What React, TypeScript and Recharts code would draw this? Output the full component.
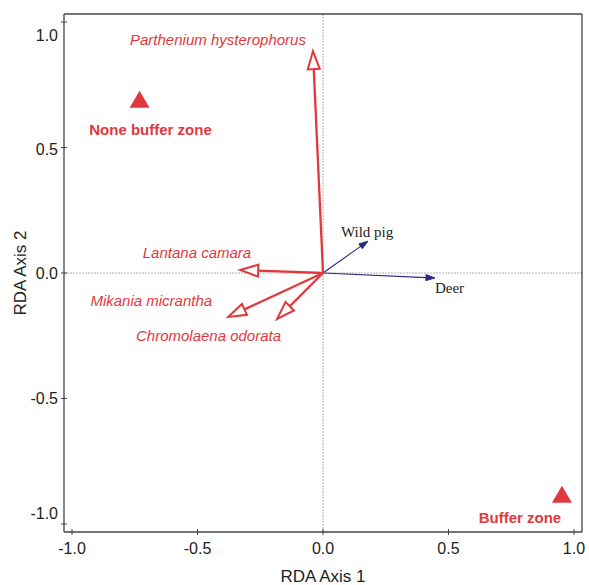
import { ReferenceLine, Scatter, ScatterChart, XAxis, YAxis } from "recharts";

const AXIS_MIN = -1.032;
const AXIS_MAX = 1.032;
const axisTicks = [-1, -0.5, 0, 0.5, 1];

// species vectors (red, open heads)
const speciesNames = [
  "Parthenium hysterophorus",
  "Lantana camara",
  "Mikania micrantha",
  "Chromolaena odorata",
];
const speciesAxis1 = [-0.04, -0.33, -0.378, -0.183];
const speciesAxis2 = [0.884, 0.012, -0.175, -0.183];

// animal vectors (blue, filled heads)
const animalNames = ["Wild pig", "Deer"];
const animalAxis1 = [0.179, 0.446];
const animalAxis2 = [0.127, -0.02];

// sites (triangles)
const siteNames = ["None buffer zone", "Buffer zone"];
const siteAxis1 = [-0.731, 0.952];
const siteAxis2 = [0.69, -0.884];

const RED = "#e0393d";
const BLUE = "#2a2a82";
const AXIS = "#444";
const SANS = "'Liberation Sans', Arial, sans-serif";
const SERIF = "'Liberation Serif', 'Times New Roman', serif";

// label placement relative to the arrow tip / marker, in pixels
const labelPlace: Record<string, { dx: number; dy: number; anchor: "start" | "middle" | "end" }> = {
  "Parthenium hysterophorus": { dx: -7, dy: -6, anchor: "end" },
  "Lantana camara": { dx: 11, dy: -12, anchor: "end" },
  "Mikania micrantha": { dx: -16, dy: -11, anchor: "end" },
  "Chromolaena odorata": { dx: 4, dy: 22, anchor: "end" },
  "Wild pig": { dx: -27, dy: -4, anchor: "start" },
  Deer: { dx: 0, dy: 15, anchor: "start" },
  "None buffer zone": { dx: 11, dy: 35, anchor: "middle" },
  "Buffer zone": { dx: -42, dy: 28, anchor: "middle" },
};

const siteData = siteNames.map((name, i) => ({ name, x: siteAxis1[i], y: siteAxis2[i] }));

function makeArrow(name: string, species: boolean) {
  return (props: any) => {
    const { x1, y1, x2, y2 } = props;
    const len = Math.hypot(x2 - x1, y2 - y1) || 1;
    const ux = (x2 - x1) / len;
    const uy = (y2 - y1) / len;
    const headL = species ? 18 : 9;
    const headW = species ? 12 : 6;
    const bx = x2 - ux * headL;
    const by = y2 - uy * headL;
    const nx = -uy * (headW / 2);
    const ny = ux * (headW / 2);
    const color = species ? RED : BLUE;
    const p = labelPlace[name];
    return (
      <g>
        <line x1={x1} y1={y1} x2={bx} y2={by} stroke={color} strokeWidth={species ? 2.3 : 1.1} />
        <polygon
          points={`${x2},${y2} ${bx + nx},${by + ny} ${bx - nx},${by - ny}`}
          fill={species ? "#fff" : BLUE}
          stroke={color}
          strokeWidth={species ? 2 : 1}
        />
        <text
          x={x2 + p.dx}
          y={y2 + p.dy}
          textAnchor={p.anchor}
          fill={species ? RED : "#222"}
          fontSize={15}
          fontStyle={species ? "italic" : "normal"}
          fontFamily={species ? SANS : SERIF}
        >
          {name}
        </text>
      </g>
    );
  };
}

function SiteMarker(props: any) {
  const { cx, cy, payload } = props;
  const p = labelPlace[payload.name];
  return (
    <g>
      <polygon points={`${cx},${cy - 9} ${cx - 10},${cy + 8} ${cx + 10},${cy + 8}`} fill={RED} />
      <text
        x={cx + p.dx}
        y={cy + p.dy}
        textAnchor={p.anchor}
        fill={RED}
        fontSize={15}
        fontWeight="bold"
        fontFamily={SANS}
      >
        {payload.name}
      </text>
    </g>
  );
}

const fmt = (v: number) => v.toFixed(1);

// x tick: short mark crossing the axis, label below
function XTick(props: any) {
  const { x, y, payload } = props;
  const axisY = y - 11;
  return (
    <g>
      <line x1={x} x2={x} y1={axisY - 3} y2={axisY + 3} stroke={AXIS} />
      <text x={x} y={y} dy="0.71em" textAnchor="middle" fill="#222" fontSize={16} fontFamily={SANS}>
        {fmt(payload.value)}
      </text>
    </g>
  );
}

// y tick: the end labels (±1.0) are pulled inward, as in the original
function YTick(props: any) {
  const { x, y, payload } = props;
  const axisX = x + 6;
  const v = payload.value;
  const shift = v >= 1 ? 13 : v <= -1 ? -10.5 : v > 0 ? 1.5 : 0;
  return (
    <g>
      <line x1={axisX - 3} x2={axisX + 3} y1={y} y2={y} stroke={AXIS} />
      <text
        x={x}
        y={y + shift}
        dy="0.355em"
        textAnchor="end"
        fill="#222"
        fontSize={16}
        fontFamily={SANS}
      >
        {fmt(v)}
      </text>
    </g>
  );
}

export default function App() {
  return (
    <div style={{ position: "absolute", left: 0, top: 0, background: "#fff" }}>
      <ScatterChart width={589} height={585} margin={{ top: 14, right: 7, bottom: 0, left: 0 }}>
        <XAxis
          type="number"
          dataKey="x"
          domain={[AXIS_MIN, AXIS_MAX]}
          ticks={axisTicks}
          interval={0}
          allowDataOverflow
          height={53}
          tickSize={3}
          tickMargin={8}
          axisLine={{ stroke: AXIS, strokeWidth: 1.3 }}
          tickLine={false}
          tick={<XTick />}
          label={{ value: "RDA Axis 1", position: "insideBottom", offset: 3, fill: "#222", fontSize: 17, fontFamily: SANS }}
        />
        <YAxis
          type="number"
          dataKey="y"
          domain={[AXIS_MIN, AXIS_MAX]}
          ticks={axisTicks}
          interval={0}
          allowDataOverflow
          width={64}
          tickSize={3}
          tickMargin={3}
          axisLine={{ stroke: AXIS, strokeWidth: 1.3 }}
          tickLine={false}
          tick={<YTick />}
          label={{
            value: "RDA Axis 2",
            angle: -90,
            position: "insideLeft",
            offset: 20,
            fill: "#222",
            fontSize: 17,
            fontFamily: SANS,
            style: { textAnchor: "middle" },
          }}
        />
        <ReferenceLine x={0} stroke="#999" strokeWidth={0.8} strokeDasharray="2 1" />
        <ReferenceLine y={0} stroke="#999" strokeWidth={0.8} strokeDasharray="2 1" />
        <ReferenceLine y={AXIS_MAX} stroke={AXIS} strokeWidth={1.3} ifOverflow="visible" />
        <ReferenceLine x={AXIS_MAX} stroke={AXIS} strokeWidth={1.3} ifOverflow="visible" />
        {animalNames.map((name, i) => (
          <ReferenceLine
            key={name}
            segment={[
              { x: 0, y: 0 },
              { x: animalAxis1[i], y: animalAxis2[i] },
            ]}
            shape={makeArrow(name, false)}
          />
        ))}
        {speciesNames.map((name, i) => (
          <ReferenceLine
            key={name}
            segment={[
              { x: 0, y: 0 },
              { x: speciesAxis1[i], y: speciesAxis2[i] },
            ]}
            shape={makeArrow(name, true)}
          />
        ))}
        <Scatter data={siteData} shape={SiteMarker} isAnimationActive={false} />
      </ScatterChart>
    </div>
  );
}
